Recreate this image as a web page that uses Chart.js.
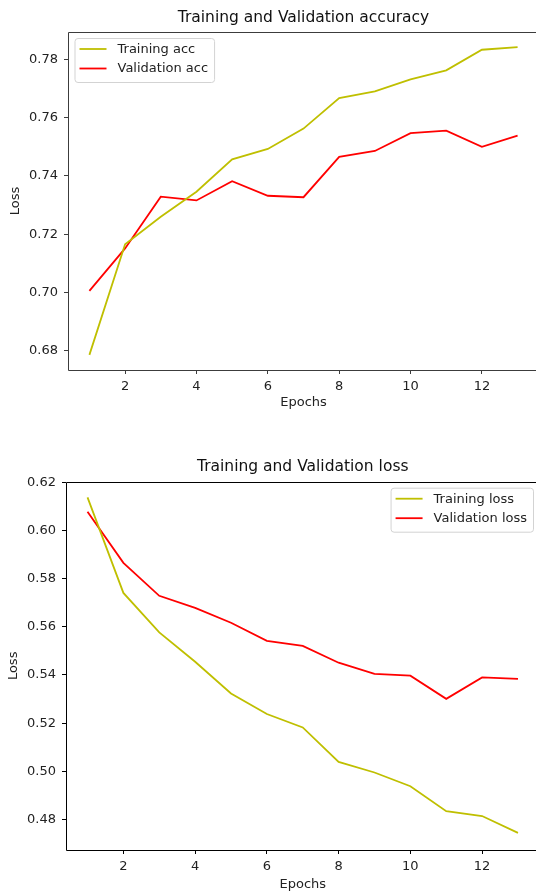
<!DOCTYPE html>
<html>
<head>
<meta charset="utf-8">
<script src="https://cdn.jsdelivr.net/npm/chart.js@4.4.1/dist/chart.umd.min.js"></script>
<style>
  body { margin: 0; background: #fff; }
  #wrap { position: relative; width: 536px; height: 893px; overflow: hidden; }
  canvas { position: absolute; left: 0; }
</style>
</head>
<body>
<div id="wrap">
  <canvas id="acc" width="541" height="420" style="top:0"></canvas>
  <canvas id="loss" width="541" height="453" style="top:440px"></canvas>
</div>
<script>
const epochs = [1, 2, 3, 4, 5, 6, 7, 8, 9, 10, 11, 12, 13];

const trainAcc = [0.6785, 0.7165, 0.7260, 0.7346, 0.7457, 0.7493, 0.7563, 0.7668, 0.7691, 0.7732, 0.7763, 0.7834, 0.7843];
const valAcc   = [0.7005, 0.7151, 0.7329, 0.7316, 0.7382, 0.7332, 0.7327, 0.7466, 0.7486, 0.7547, 0.7556, 0.7500, 0.7539];

const trainLoss = [0.6138, 0.5741, 0.5577, 0.5455, 0.5323, 0.5238, 0.5182, 0.5039, 0.4995, 0.4938, 0.4834, 0.4814, 0.4744];
const valLoss   = [0.6078, 0.5866, 0.5729, 0.5679, 0.5617, 0.5542, 0.5521, 0.5451, 0.5405, 0.5397, 0.5301, 0.5390, 0.5384];

const xTicks = [2, 4, 6, 8, 10, 12];
const accTicks = [0.68, 0.70, 0.72, 0.74, 0.76, 0.78];
const lossTicks = [0.48, 0.50, 0.52, 0.54, 0.56, 0.58, 0.60, 0.62];

const FONT = "'DejaVu Sans', sans-serif";
const OLIVE = "#bfbf00";
const RED = "#ff0000";

function pts(ys) {
  return epochs.map((e, i) => ({ x: e, y: ys[i] }));
}

// frame (left, top, bottom; right side is cropped off) + legend box inside the plot
const frameLegend = {
  id: "frameLegend",
  afterDraw(chart, args, opts) {
    const c = chart.ctx;
    const a = chart.chartArea;
    const l = Math.round(a.left) + 0.5, t = Math.round(a.top) + 0.5, b = Math.round(a.bottom) + 0.5;
    c.save();
    c.strokeStyle = opts.frameColor;
    c.lineWidth = 1;
    c.beginPath();
    c.moveTo(a.right, t);
    c.lineTo(l, t);
    c.lineTo(l, b);
    c.lineTo(a.right, b);
    c.stroke();

    c.font = "13px " + FONT;
    const sets = chart.data.datasets;
    const textW = Math.max(...sets.map(d => c.measureText(d.label).width));
    const w = 5 + 27 + 11 + textW + 6;
    const h = 44;
    const x = opts.corner === "right" ? a.right - 6.5 - w : a.left + 6.5;
    const y = a.top + 6;

    c.beginPath();
    c.roundRect(x + 0.5, y + 0.5, w, h, 3);
    c.fillStyle = "rgba(255,255,255,0.8)";
    c.fill();
    c.strokeStyle = "#d3d3d3";
    c.stroke();

    sets.forEach((d, i) => {
      const ry = y + 11 + i * 19.5;
      c.beginPath();
      c.moveTo(x + 5, ry);
      c.lineTo(x + 32, ry);
      c.strokeStyle = d.borderColor;
      c.lineWidth = 1.8;
      c.stroke();
      c.fillStyle = "#222";
      c.textBaseline = "middle";
      c.textAlign = "left";
      c.fillText(d.label, x + 43, ry + 0.5);
    });
    c.restore();
  }
};

function makeChart(id, cfg) {
  return new Chart(document.getElementById(id), {
    type: "line",
    data: {
      datasets: [
        { label: cfg.labels[0], data: pts(cfg.train), borderColor: OLIVE, borderWidth: 1.8, pointRadius: 0, tension: 0 },
        { label: cfg.labels[1], data: pts(cfg.val), borderColor: RED, borderWidth: 1.8, pointRadius: 0, tension: 0 }
      ]
    },
    plugins: [frameLegend],
    options: {
      responsive: false,
      animation: false,
      layout: { padding: { left: 0, right: cfg.padRight, top: 0, bottom: 0 } },
      plugins: {
        legend: { display: false },
        tooltip: { enabled: false },
        title: {
          display: true,
          fullSize: false,
          text: cfg.title,
          color: "#111",
          font: { family: FONT, size: 15.5, weight: "normal" },
          padding: { top: cfg.titleTop, bottom: cfg.titleBottom }
        },
        frameLegend: { corner: cfg.corner, frameColor: cfg.frameColor }
      },
      scales: {
        x: {
          type: "linear",
          min: 0.4,
          max: 13.6,
          afterBuildTicks: s => { s.ticks = xTicks.map(v => ({ value: v })); },
          afterFit: s => { s.height = cfg.xHeight; },
          border: { display: false },
          grid: { drawOnChartArea: false, drawTicks: true, tickLength: 4, color: cfg.frameColor },
          ticks: { color: "#222", font: { family: FONT, size: 13 }, padding: 5, maxRotation: 0, autoSkip: false },
          title: { display: true, text: "Epochs", color: "#222", font: { family: FONT, size: 13 }, padding: { top: 0, bottom: cfg.xTitlePad } }
        },
        y: {
          min: cfg.yMin,
          max: cfg.yMax,
          afterBuildTicks: s => { s.ticks = cfg.yTicks.map(v => ({ value: v })); },
          afterFit: s => { s.width = cfg.yWidth; },
          border: { display: false },
          grid: { drawOnChartArea: false, drawTicks: true, tickLength: 4, color: cfg.frameColor },
          ticks: { color: "#222", font: { family: FONT, size: 13 }, padding: 6, autoSkip: false, callback: v => v.toFixed(2) },
          title: { display: true, text: "Loss", color: "#222", font: { family: FONT, size: 13 }, padding: { top: cfg.yTitlePad, bottom: 0 } }
        }
      }
    }
  });
}

makeChart("acc", {
  title: "Training and Validation accuracy",
  labels: ["Training acc", "Validation acc"],
  train: trainAcc,
  val: valAcc,
  yTicks: accTicks,
  yMin: 0.6733,
  yMax: 0.7895,
  corner: "left",
  frameColor: "#3c3c3c",
  titleTop: 9,
  titleBottom: 4.4,
  xHeight: 50,
  xTitlePad: 9.9,
  yWidth: 68,
  yTitlePad: 8.2,
  padRight: 2
});

makeChart("loss", {
  title: "Training and Validation loss",
  labels: ["Training loss", "Validation loss"],
  train: trainLoss,
  val: valLoss,
  yTicks: lossTicks,
  yMin: 0.4673,
  yMax: 0.6203,
  corner: "right",
  frameColor: "#000",
  titleTop: 17.4,
  titleBottom: 5.7,
  xHeight: 43,
  xTitlePad: 0.2,
  yWidth: 66,
  yTitlePad: 6.2,
  padRight: 1.5
});
</script>
</body>
</html>
